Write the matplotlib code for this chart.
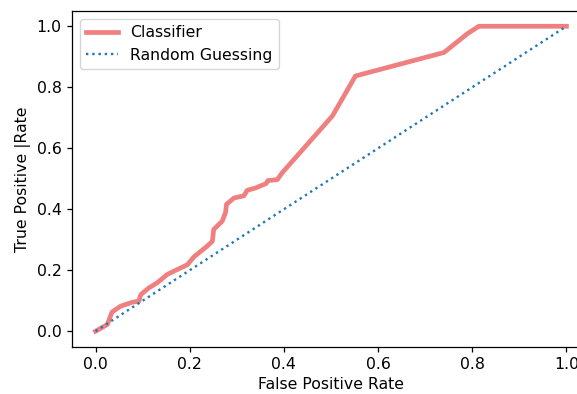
import matplotlib
matplotlib.use('Agg')
import matplotlib.pyplot as plt

# ROC curve points
fpr = [0.0, 0.025, 0.035, 0.053, 0.078, 0.092, 0.096, 0.113, 0.131, 0.152, 0.173,
       0.195, 0.209, 0.237, 0.248, 0.251, 0.269, 0.276, 0.278, 0.294, 0.315, 0.322,
       0.340, 0.362, 0.366, 0.386, 0.396, 0.503, 0.552, 0.740, 0.790, 0.814, 1.0]
tpr = [0.0, 0.022, 0.063, 0.082, 0.095, 0.099, 0.120, 0.142, 0.159, 0.186, 0.202,
       0.218, 0.244, 0.279, 0.295, 0.334, 0.361, 0.389, 0.416, 0.437, 0.444, 0.462,
       0.470, 0.484, 0.494, 0.497, 0.519, 0.706, 0.837, 0.914, 0.976, 1.0, 1.0]
diag = [0.0, 1.0]

# reference looks like a slightly upscaled render
scale = 1.13
plt.rcParams['font.size'] = 10 * scale
plt.rcParams['axes.linewidth'] = 0.8 * scale
plt.rcParams['xtick.major.width'] = 0.8 * scale
plt.rcParams['ytick.major.width'] = 0.8 * scale
plt.rcParams['xtick.major.size'] = 3.5 * scale
plt.rcParams['ytick.major.size'] = 3.5 * scale

fig = plt.figure(figsize=(5.77, 3.94), dpi=100)
# right spine falls outside the cropped reference image
ax = fig.add_axes([72 / 577, 1 - 346.5 / 394, 518 / 577, 335.5 / 394])

ax.plot(fpr, tpr, color='lightcoral', linewidth=3 * scale, label='Classifier')
ax.plot(diag, diag, linestyle=':', color='tab:blue', linewidth=1.5 * scale, label='Random Guessing')

ax.set_xlabel('False Positive Rate')
ax.set_ylabel('True Positive |Rate')
ax.legend(loc='upper left')

fig.savefig('out.png', dpi=100)
